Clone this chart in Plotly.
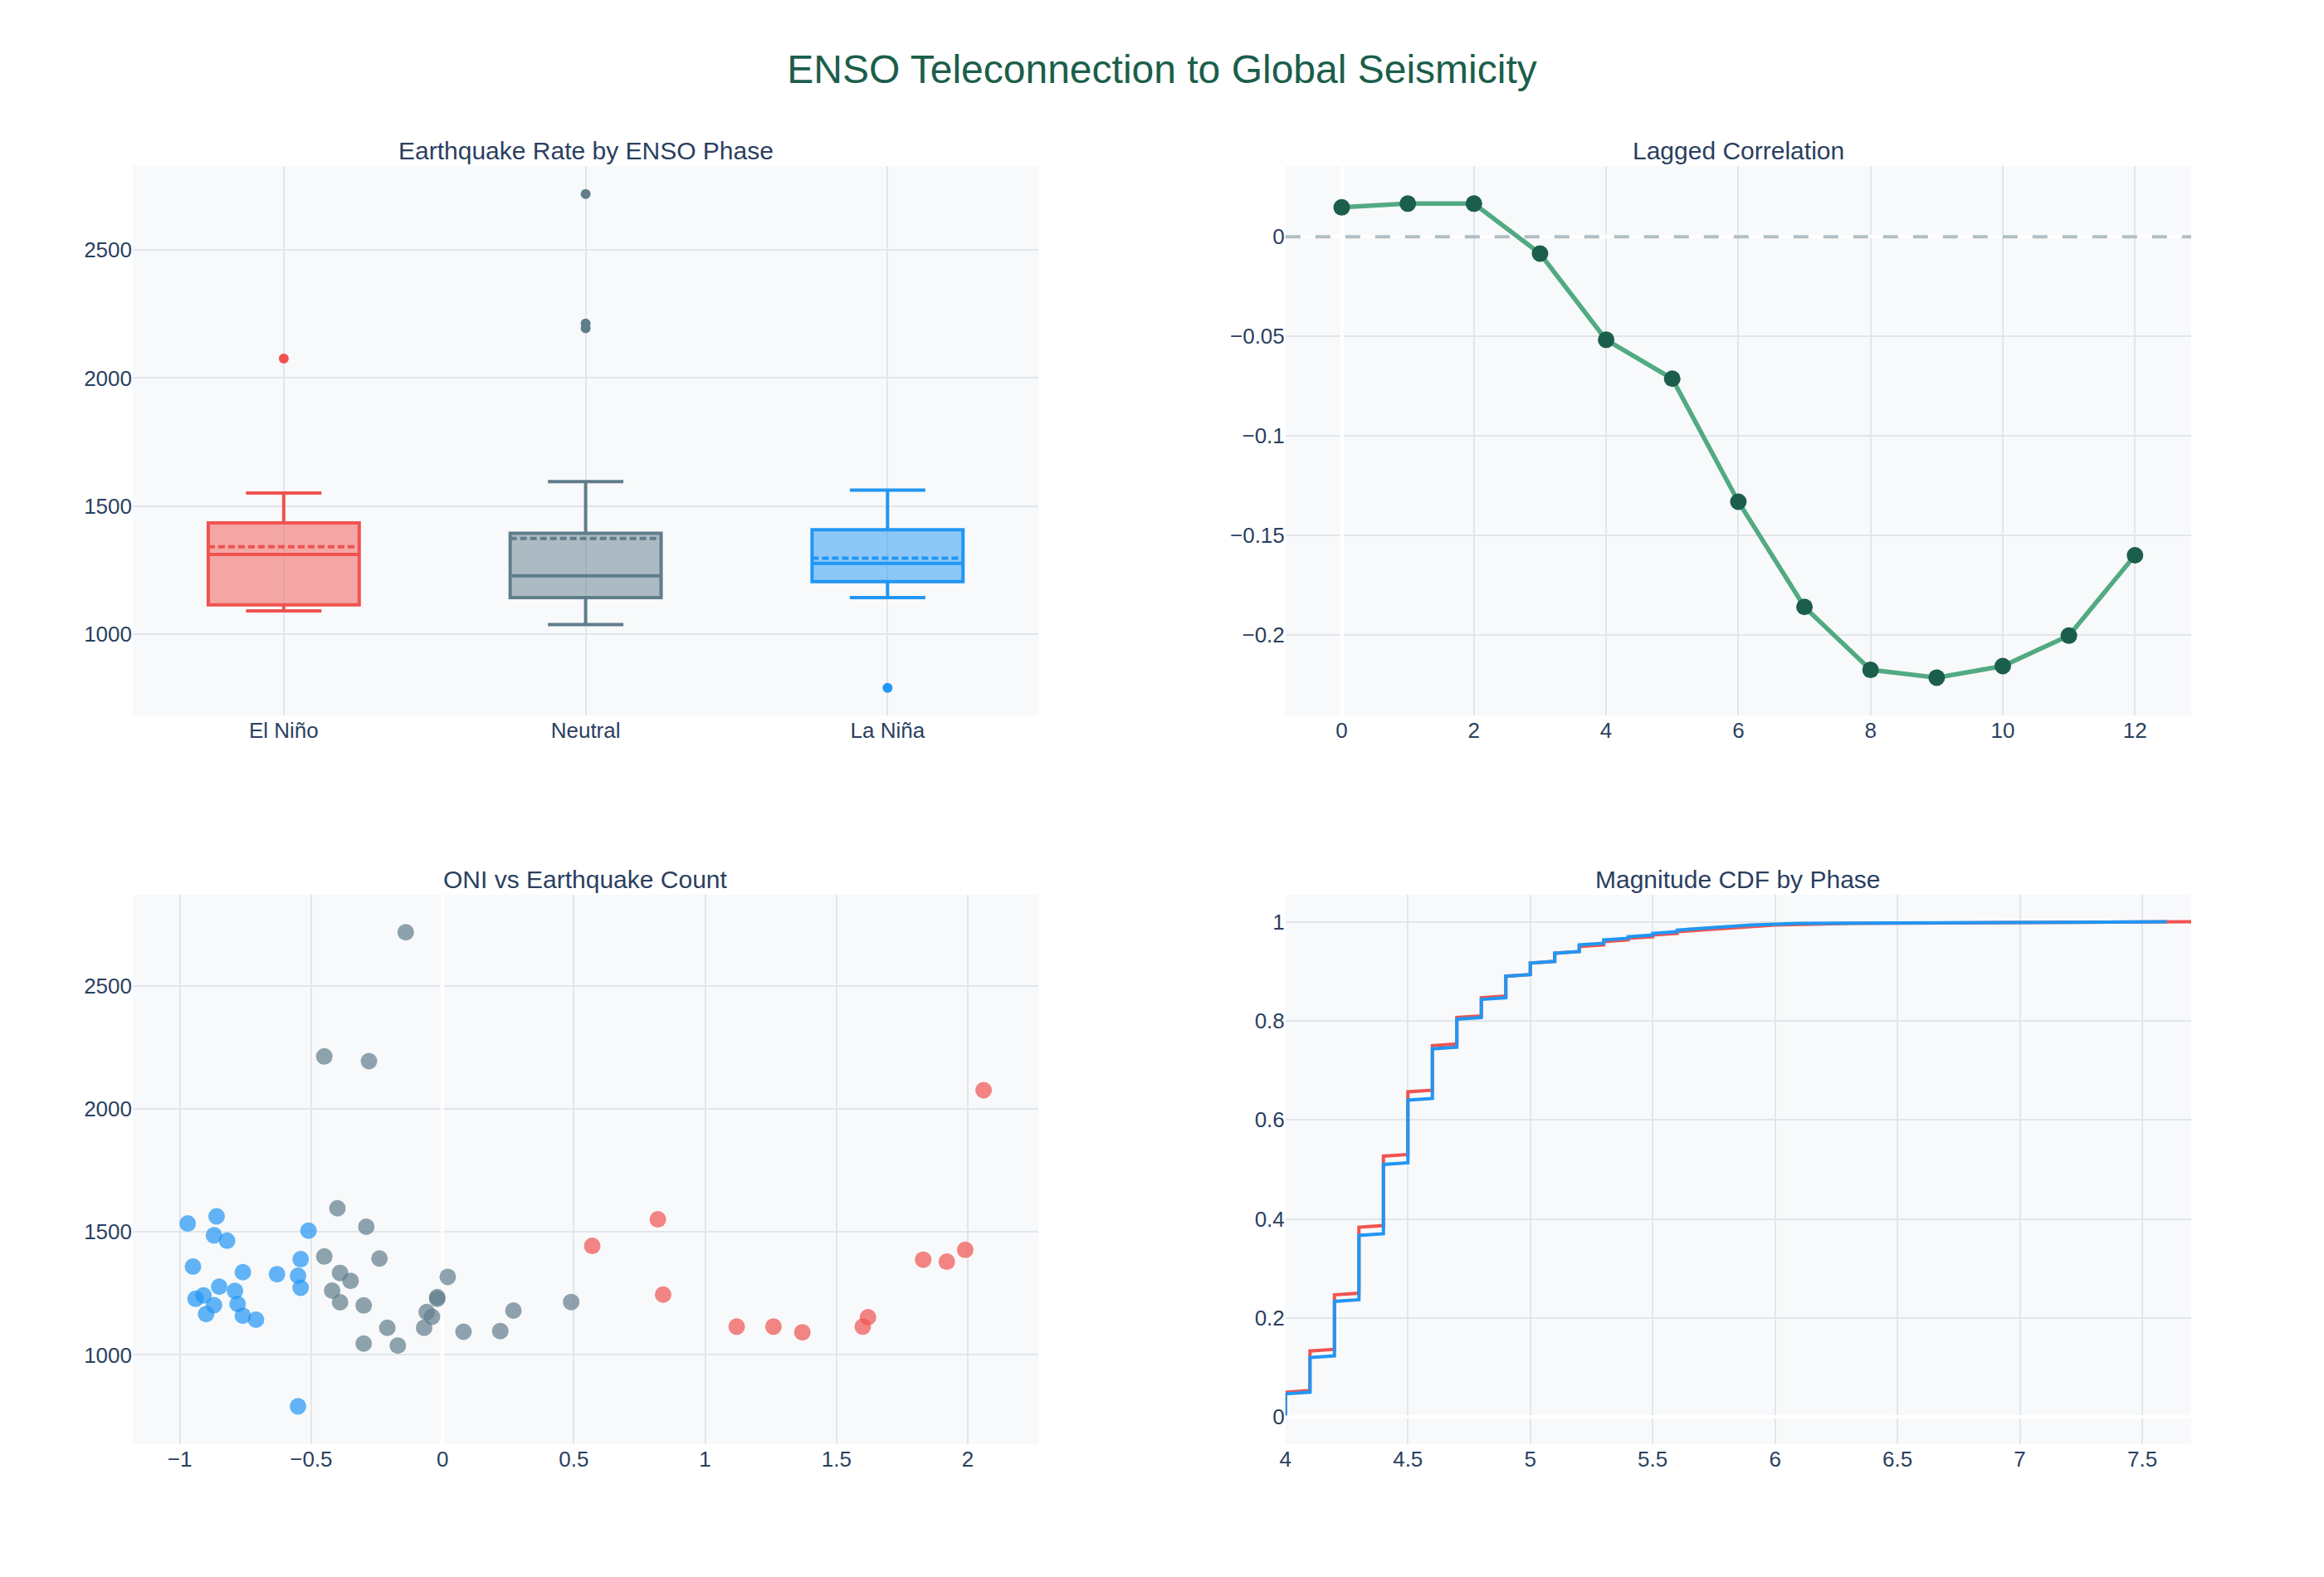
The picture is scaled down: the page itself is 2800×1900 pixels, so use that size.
import numpy as np
import plotly.graph_objects as go
from plotly.subplots import make_subplots

# ---------------- data ----------------
phases = ["El Niño", "Neutral", "La Niña"]
phase_colors = ["#EF5350", "#607D8B", "#2196F3"]

oni_elnino = [0.57, 0.82, 0.84, 1.12, 1.26, 1.37, 1.60, 1.62, 1.83, 1.92, 1.99, 2.06]
eq_elnino = [1443, 1551, 1245, 1115, 1115, 1092, 1115, 1153, 1387, 1379, 1427, 2076]

oni_neutral = [-0.14, -0.45, -0.28, -0.40, -0.29, -0.45, -0.24, -0.39, -0.35, 0.02,
               -0.42, -0.39, -0.30, -0.02, -0.02, 0.49, 0.27, -0.06, -0.04, -0.07,
               -0.21, 0.08, 0.22, -0.30, -0.17]
eq_neutral = [2718, 2213, 2194, 1596, 1521, 1400, 1392, 1333, 1301, 1317,
              1261, 1214, 1201, 1235, 1228, 1215, 1180, 1174, 1155, 1110,
              1110, 1094, 1097, 1046, 1038]

oni_lanina = [-0.97, -0.86, -0.87, -0.82, -0.51, -0.95, -0.54, -0.76, -0.63, -0.55,
              -0.54, -0.85, -0.79, -0.91, -0.94, -0.87, -0.78, -0.90, -0.76, -0.71, -0.55]
eq_lanina = [1534, 1563, 1486, 1464, 1505, 1359, 1389, 1336, 1328, 1322,
             1273, 1277, 1260, 1242, 1228, 1202, 1207, 1166, 1159, 1143, 791]

lags = [0, 1, 2, 3, 4, 5, 6, 7, 8, 9, 10, 11, 12]
lag_corr = [0.0148, 0.0167, 0.0167, -0.0084, -0.0517, -0.0713, -0.1331,
            -0.1860, -0.2176, -0.2215, -0.2157, -0.2004, -0.1600]

mag_bins = [4.0, 4.1, 4.2, 4.3, 4.4, 4.5, 4.6, 4.7, 4.8, 4.9,
            5.0, 5.1, 5.2, 5.3, 5.4, 5.5, 5.6, 5.7, 5.8, 5.9,
            6.0, 6.1, 6.2, 6.3, 6.4, 6.5, 6.6, 6.7, 6.8, 6.9,
            7.0, 7.1, 7.2, 7.3, 7.4, 7.5, 7.6, 7.7]
mag_counts_elnino = [15, 25, 34, 41, 43, 39, 28, 17, 12, 13,
                     8, 6, 4, 3, 2, 2, 2, 1, 1, 1,
                     1, 0, 0, 1, 0, 0, 0, 0, 0, 0,
                     0, 0, 0, 0, 0, 0, 0, 1]
mag_counts_lanina = [14, 22, 34, 40, 43, 39, 31, 18, 12, 14,
                     8, 6, 5, 3, 2, 2, 2, 1, 1, 1,
                     0, 1, 0, 0, 0, 0, 0, 0, 0, 0,
                     0, 0, 0, 0, 0, 0, 1, 0]

# ---------------- styling ----------------
FONT = "Liberation Sans, Arial, sans-serif"
TXT = "#2A3F5F"
GRID = "#E2E6EA"
BG = "#F8F9FA"
LINE_GREEN = "#52AA82"
DARK_GREEN = "#1B5E4B"

fig = make_subplots(
    rows=2, cols=2,
    subplot_titles=("Earthquake Rate by ENSO Phase", "Lagged Correlation",
                    "ONI vs Earthquake Count", "Magnitude CDF by Phase"),
    horizontal_spacing=0.12, vertical_spacing=0.14,
)

# Box plots
for name, col, vals in zip(phases, phase_colors, [eq_elnino, eq_neutral, eq_lanina]):
    fig.add_trace(go.Box(y=vals, name=name, boxmean=True, width=0.5,
                         line=dict(color=col, width=4),
                         marker=dict(color=col, size=12),
                         whiskerwidth=0.5, showlegend=False),
                  row=1, col=1)

# Lagged correlation
fig.add_trace(go.Scatter(x=lags, y=lag_corr, mode="lines+markers",
                         line=dict(color=LINE_GREEN, width=5.5),
                         marker=dict(color=DARK_GREEN, size=20),
                         showlegend=False),
              row=1, col=2)
fig.add_hline(y=0, line_dash="18px,18px", line_color="#B0BEC5", line_width=4,
              row=1, col=2)

# Scatter
for name, col, xs, ys in zip(phases, phase_colors,
                             [oni_elnino, oni_neutral, oni_lanina],
                             [eq_elnino, eq_neutral, eq_lanina]):
    fig.add_trace(go.Scatter(x=xs, y=ys, mode="markers", name=name,
                             marker=dict(color=col, size=20, opacity=0.7),
                             showlegend=False),
                  row=2, col=1)

# CDF
for name, col, counts in [("El Niño", phase_colors[0], mag_counts_elnino),
                          ("La Niña", phase_colors[2], mag_counts_lanina)]:
    mags = np.repeat(mag_bins, counts)
    n = len(mags)
    cdf = np.arange(1, n + 1) / n
    fig.add_trace(go.Scatter(x=mags, y=cdf, mode="lines", name=name,
                             line=dict(color=col, width=4), showlegend=False),
                  row=2, col=2)

axis_style = dict(gridcolor=GRID, gridwidth=2, zerolinecolor="white", zerolinewidth=4,
                  showline=False, ticks="", tickfont=dict(size=26, color=TXT, family=FONT))
fig.update_xaxes(**axis_style)
fig.update_yaxes(**axis_style)

fig.update_yaxes(range=[683, 2827], row=1, col=1)
fig.update_xaxes(range=[-0.5, 2.5], row=1, col=1)
fig.update_xaxes(range=[-0.85, 12.85], row=1, col=2)
fig.update_yaxes(range=[-0.2406, 0.0356], row=1, col=2)
fig.update_xaxes(range=[-1.179, 2.269], row=2, col=1)
fig.update_yaxes(range=[637, 2871], row=2, col=1)
fig.update_xaxes(range=[4.0, 7.7], row=2, col=2)
fig.update_yaxes(range=[-0.055, 1.055], row=2, col=2)

fig.update_annotations(font=dict(size=30, color=TXT, family=FONT))

fig.update_layout(
    width=2800, height=1900,
    margin=dict(l=160, r=160, t=200, b=160),
    paper_bgcolor="white", plot_bgcolor=BG,
    font=dict(family=FONT, size=26, color=TXT),
    title=dict(text="ENSO Teleconnection to Global Seismicity", x=0.5, xanchor="center",
               font=dict(size=48, color=DARK_GREEN, family=FONT)),
    showlegend=False,
)

fig.write_html("out.html")
